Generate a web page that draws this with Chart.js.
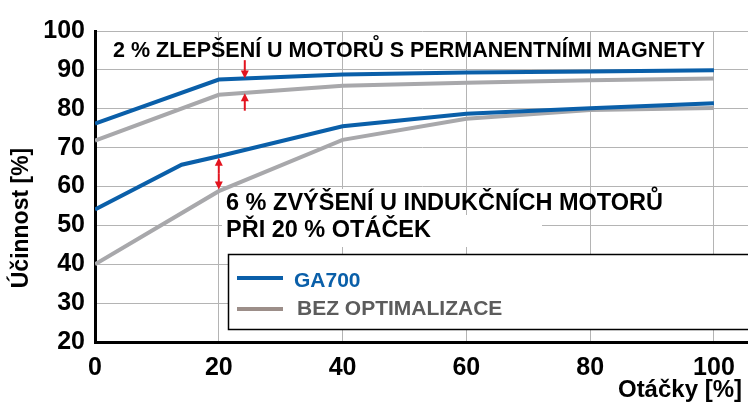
<!DOCTYPE html>
<html>
<head>
<meta charset="utf-8">
<script src="https://cdn.jsdelivr.net/npm/chart.js@4/dist/chart.umd.min.js"></script>
<style>
  html, body { margin: 0; padding: 0; background: #fff; }
  #wrap { width: 748px; height: 407px; }
</style>
</head>
<body>
<div id="wrap"><canvas id="chart"></canvas></div>
<script>
'use strict';

// speeds in % of rated speed
var pmSpeed = [0, 20, 40, 60, 80, 100];
var imSpeedGa = [0, 14, 20, 40, 60, 80, 100];
var imSpeedBez = [0, 20, 40, 60, 80, 100];

// efficiency in %
var pmGa700 = [76.2, 87.5, 88.8, 89.3, 89.6, 89.9];
var pmBez = [71.8, 83.6, 85.9, 86.7, 87.3, 87.8];
var imGa700 = [54.1, 65.6, 67.8, 75.5, 78.7, 80.1, 81.4];
var imBez = [40.0, 58.8, 72.0, 77.4, 79.7, 80.2];

var xTicks = [0, 20, 40, 60, 80, 100];
var seriesLabels = ['GA700', 'BEZ OPTIMALIZACE'];

var BLUE = '#0a5fa9';
var GREY = '#a8a8ab';
var LEGEND_GREY = '#9c8e89';
var RED = '#e3141f';
var FONT = '"Liberation Sans", Arial, Helvetica, sans-serif';

var toPoints = function (xs, ys) {
  return xs.map(function (x, i) { return { x: x, y: ys[i] }; });
};

var line = function (label, xs, ys, color) {
  return {
    label: label,
    data: toPoints(xs, ys),
    borderColor: color,
    borderWidth: 4,
    pointRadius: 0,
    tension: 0,
    fill: false,
  };
};

var arrow = function (ctx, x, y1, y2) {
  // shaft from y1 to tip at y2
  var dir = y2 > y1 ? 1 : -1;
  ctx.strokeStyle = RED;
  ctx.fillStyle = RED;
  ctx.lineWidth = 2;
  ctx.beginPath();
  ctx.moveTo(x, y1);
  ctx.lineTo(x, y2 - dir * 6);
  ctx.stroke();
  ctx.beginPath();
  ctx.moveTo(x, y2);
  ctx.lineTo(x - 4, y2 - dir * 8);
  ctx.lineTo(x + 4, y2 - dir * 8);
  ctx.closePath();
  ctx.fill();
};

var notes = {
  id: 'notes',
  beforeDatasetsDraw: function (chart) {
    var ctx = chart.ctx;
    ctx.save();
    ctx.fillStyle = '#fff';
    ctx.fillRect(222, 189, 180, 28);
    ctx.fillRect(222, 215, 320, 32);
    ctx.restore();
  },
  afterDraw: function (chart) {
    var ctx = chart.ctx;
    var xs = chart.scales.x;
    var ys = chart.scales.y;
    ctx.save();

    // arrows
    var ax = xs.getPixelForValue(24.2);
    arrow(ctx, ax, ys.getPixelForValue(92.5), ys.getPixelForValue(87.8));
    arrow(ctx, ax, ys.getPixelForValue(79.5), ys.getPixelForValue(84.0));
    var bx = xs.getPixelForValue(20);
    var b1 = ys.getPixelForValue(67.4);
    var b2 = ys.getPixelForValue(59.2);
    arrow(ctx, bx, (b1 + b2) / 2, b1);
    arrow(ctx, bx, (b1 + b2) / 2, b2);

    // annotations
    ctx.fillStyle = '#000';
    ctx.textAlign = 'left';
    ctx.textBaseline = 'alphabetic';
    ctx.font = 'bold 21.5px ' + FONT;
    ctx.fillText('2 % ZLEPŠENÍ U MOTORŮ S PERMANENTNÍMI MAGNETY', 113, 57);
    ctx.font = 'bold 23.5px ' + FONT;
    ctx.fillText('6 % ZVÝŠENÍ U INDUKČNÍCH MOTORŮ', 226, 210);
    ctx.fillText('PŘI 20 % OTÁČEK', 226, 237);

    // legend box
    ctx.fillStyle = '#fff';
    ctx.fillRect(228, 254, 540, 75);
    ctx.strokeStyle = '#000';
    ctx.lineWidth = 1.5;
    ctx.strokeRect(228.5, 254.5, 540, 75);
    ctx.lineWidth = 4;
    ctx.strokeStyle = BLUE;
    ctx.beginPath(); ctx.moveTo(237, 278); ctx.lineTo(283, 278); ctx.stroke();
    ctx.strokeStyle = LEGEND_GREY;
    ctx.beginPath(); ctx.moveTo(237, 309); ctx.lineTo(283, 309); ctx.stroke();
    ctx.font = 'bold 21px ' + FONT;
    ctx.fillStyle = BLUE;
    ctx.fillText(seriesLabels[0], 294, 287);
    ctx.fillStyle = '#5c5c5c';
    ctx.fillText(seriesLabels[1], 297, 315);

    // axis titles
    ctx.fillStyle = '#000';
    ctx.font = 'bold 24px ' + FONT;
    ctx.textAlign = 'right';
    ctx.fillText('Otáčky [%]', 742, 397);
    ctx.font = 'bold 23px ' + FONT;
    ctx.translate(22, 218);
    ctx.rotate(-Math.PI / 2);
    ctx.textAlign = 'center';
    ctx.textBaseline = 'middle';
    ctx.fillText('Účinnost [%]', 0, 0);
    ctx.restore();
  },
};

var ctx = document.getElementById('chart').getContext('2d');
/* eslint-disable-next-line no-unused-vars */
var chart = new Chart(ctx, {
  type: 'line',
  plugins: [notes],
  data: {
    datasets: [
      line(seriesLabels[0], pmSpeed, pmGa700, BLUE),
      line(seriesLabels[1], pmSpeed, pmBez, GREY),
      line(seriesLabels[0], imSpeedGa, imGa700, BLUE),
      line(seriesLabels[1], imSpeedBez, imBez, GREY),
    ],
  },
  options: {
    responsive: true,
    maintainAspectRatio: false,
    animation: false,
    layout: {
      padding: { top: 31, left: 0, right: 0, bottom: 0 },
    },
    plugins: {
      legend: { display: false },
      tooltip: { enabled: false },
    },
    scales: {
      x: {
        type: 'linear',
        min: 0,
        max: 105.5,
        afterBuildTicks: function (scale) {
          scale.ticks = xTicks.map(function (v) { return { value: v }; });
        },
        afterFit: function (scale) {
          scale.height = 65;
        },
        grid: { color: '#b4b4b4', lineWidth: 1, drawTicks: false },
        border: { display: true, color: '#000', width: 3 },
        ticks: {
          color: '#000',
          padding: 11,
          font: { family: FONT, size: 25, weight: 'bold' },
        },
      },
      y: {
        min: 20,
        max: 100,
        afterFit: function (scale) {
          scale.width = 95;
        },
        grid: { color: '#b4b4b4', lineWidth: 1, drawTicks: false },
        border: { display: true, color: '#000', width: 3 },
        ticks: {
          stepSize: 10,
          color: '#000',
          padding: 10,
          font: { family: FONT, size: 25, weight: 'bold' },
        },
      },
    },
  },
});
</script>
</body>
</html>
